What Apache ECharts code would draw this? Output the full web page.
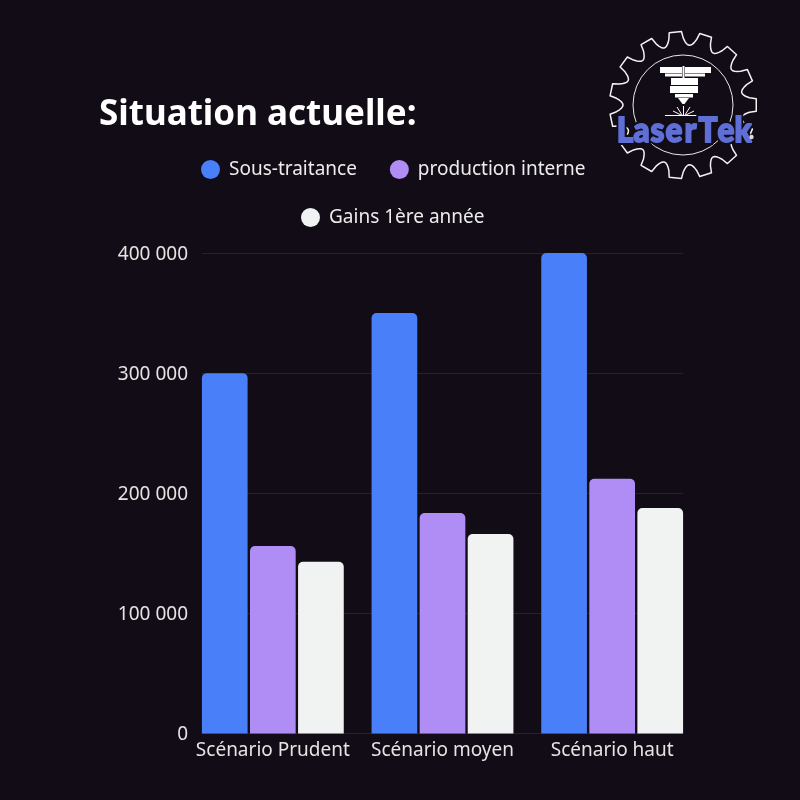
<!DOCTYPE html>
<html><head><meta charset="utf-8">
<style>html,body{margin:0;padding:0;background:#110c15}#c{width:800px;height:800px}</style>
<script src="https://cdn.jsdelivr.net/npm/echarts@6/dist/echarts.min.js"></script>
</head><body><div id="c"></div>
<script>
const categories = ['Scénario Prudent', 'Scénario moyen', 'Scénario haut'];
const sousTraitance = [300000, 350000, 400000];
const productionInterne = [156000, 183500, 212000];
const gains = [143000, 166000, 187700];
const FONT = '"Noto Sans","Open Sans",sans-serif';
const BG = '#110c15';

// Logo decoration (not data)
function gearPoints(cx, cy, n, rOut, rIn) {
  const pts = [], step = Math.PI * 2 / n, tip = 0.2, S = 10;
  for (let i = 0; i < n; i++) {
    const a = i * step;
    for (let k = 0; k <= S; k++) {
      const u = k / S;
      const f = tip + (1 - 2 * tip) * u;
      const r = rOut - (rOut - rIn) * Math.pow(Math.sin(Math.PI * u), 0.6);
      const t = a + f * step;
      pts.push([cx + r * Math.cos(t), cy + r * Math.sin(t)]);
    }
  }
  return pts;
}
const white = '#ffffff';
const rect = (x, y, w, h) => ({ type: 'rect', shape: { x, y, width: w, height: h }, style: { fill: white }, z: 12 });
const line = (x1, y1, x2, y2, lw) => ({ type: 'line', shape: { x1, y1, x2, y2 }, style: { stroke: white, lineWidth: lw || 1 }, z: 12 });
const logoLetters = [['L', 625], ['a', 641.5], ['s', 657.5], ['e', 674], ['r', 690.5], ['T', 708], ['e', 726], ['k', 743]];
const letter = (ch, x, fill, stroke, lw, z) => ({
  type: 'text', x, y: 131, scaleX: 0.9, z,
  style: { x: 0, y: 0, text: ch, fill, stroke, lineWidth: lw, font: '900 35px Lato', align: 'center', verticalAlign: 'middle' }
});
const logo = [
  { type: 'polygon', shape: { points: gearPoints(683, 105, 15, 73.5, 60) }, style: { fill: 'none', stroke: '#f2f2f2', lineWidth: 1.5, lineJoin: 'round' }, z: 10 },
  { type: 'circle', shape: { cx: 683, cy: 105, r: 50 }, style: { fill: 'none', stroke: '#e8e8e8', lineWidth: 1 }, z: 10 },
  rect(660, 67, 22, 6), rect(685, 67, 26, 6),
  rect(665, 73.5, 17, 3), rect(685, 73.5, 20, 3),
  rect(682.5, 66, 2, 12),
  rect(671, 78, 27, 7), rect(670, 86, 28, 7), rect(675, 94, 18, 3.5),
  { type: 'polygon', shape: { points: [[678, 98], [689, 98], [684.5, 104], [682.5, 104]] }, style: { fill: white }, z: 12 },
  line(665, 115.5, 702, 115.5, 1),
  line(683.5, 106, 683.5, 115, 1), line(677, 107, 682, 115), line(690, 107, 685, 115), line(673, 111, 681, 115), line(694, 111, 686, 115),
  ...logoLetters.map(([c, x]) => letter(c, x, BG, BG, 6, 13)),
  ...logoLetters.map(([c, x]) => letter(c, x, '#5f6fd6', '#5f6fd6', 1.8, 14)),
  { type: 'circle', shape: { cx: 751.5, cy: 137, r: 2.2 }, style: { fill: '#dddddd' }, z: 15 }
];

const chart = echarts.init(document.getElementById('c'), null, { renderer: 'canvas' });
const legendText = { color: '#ececec', fontFamily: FONT, fontSize: 19, padding: [0, 0, 0, 4] };
const ser = (name, data, color) => ({
  name, type: 'bar', data, xAxisIndex: 1, yAxisIndex: 1,
  barWidth: 45.7, barGap: '5.2%',
  itemStyle: { color, borderRadius: [5, 5, 0, 0] }
});
chart.setOption({
  animation: false,
  backgroundColor: BG,
  textStyle: { fontFamily: FONT },
  title: {
    text: 'Situation actuelle:', left: 94, top: 93,
    textStyle: { color: '#ffffff', fontFamily: FONT, fontSize: 35, fontWeight: 700 }
  },
  legend: [
    { data: ['Sous-traitance', 'production interne'], left: 196, top: 155, icon: 'circle', itemWidth: 19, itemHeight: 19, itemGap: 33, textStyle: legendText },
    { data: ['Gains 1ère année'], left: 296, top: 203, icon: 'circle', itemWidth: 19, itemHeight: 19, textStyle: legendText }
  ],
  grid: [
    { left: 202, width: 481, top: 253, height: 480.5 },
    { left: 188, width: 509, top: 253, height: 480.5 }
  ],
  xAxis: [
    { type: 'value', gridIndex: 0, min: 0, max: 1, show: false },
    { type: 'category', gridIndex: 1, data: categories,
      axisLine: { show: false }, axisTick: { show: false },
      axisLabel: { color: '#e4e4e4', fontFamily: FONT, fontSize: 19, margin: 8, interval: 0 } }
  ],
  yAxis: [
    { type: 'value', gridIndex: 0, min: 0, max: 400000, interval: 100000,
      axisLine: { show: false }, axisTick: { show: false },
      splitLine: { lineStyle: { color: '#25222b', width: 1 } },
      axisLabel: { margin: 14,
        formatter: v => '{t|' + String(v).replace(/\B(?=(\d{3})+$)/g, ' ') + '}',
        rich: { t: { color: '#e4e4e4', fontFamily: FONT, fontSize: 19, padding: [3, 0, 0, 0] } } } },
    { type: 'value', gridIndex: 1, min: 0, max: 400000, interval: 100000, show: false }
  ],
  series: [
    ser('Sous-traitance', sousTraitance, '#4a7ffa'),
    ser('production interne', productionInterne, '#b08df5'),
    ser('Gains 1ère année', gains, '#f1f3f2')
  ],
  graphic: logo
});
</script></body></html>
